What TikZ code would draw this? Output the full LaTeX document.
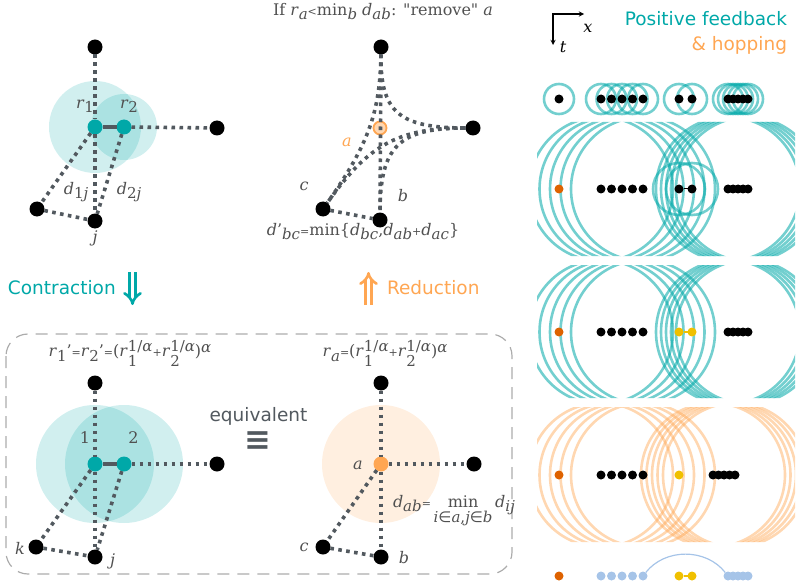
\documentclass[tikz,border=0pt]{standalone}
\usepackage{fontspec}
\setmainfont{DejaVu Serif}
\newfontfamily\sansfont{DejaVu Sans}
\usetikzlibrary{arrows, arrows.meta, backgrounds, calc}

\definecolor{fbteal}{RGB}{0,168,168}
\definecolor{hoporange}{RGB}{255,166,82}
\definecolor{deeporange}{RGB}{222,98,0}
\definecolor{goldy}{RGB}{240,192,0}
\definecolor{paleblue}{RGB}{166,196,232}
\definecolor{edgegray}{RGB}{82,89,95}
\definecolor{txtgray}{RGB}{80,80,80}
\definecolor{boxgray}{RGB}{172,172,172}

\newcommand{\vi}[1]{\textit{#1}}
\newcommand{\lo}[1]{\raisebox{-4.5pt}{\fontsize{15}{15}\selectfont #1}}
\newcommand{\hi}[1]{\raisebox{4.5pt}{\fontsize{15}{15}\selectfont #1}}
\newcommand{\losup}[2]{\rlap{\raisebox{-10pt}{\fontsize{15}{15}\selectfont #1}}\raisebox{5pt}{\fontsize{15}{15}\selectfont #2}}
\newcommand{\sm}[1]{{\fontsize{11}{11}\selectfont #1}}
\newcommand{\isin}{{\sansfont ∈}}

\begin{document}
\begin{tikzpicture}[
        x = 1pt, y = -1pt, % one unit per pixel, y runs down
        > = stealth, % arrow head style
        semithick % line style
    ]

    \tikzstyle{every node}=[inner sep = 0pt, outer sep = 0pt]
    \tikzstyle{vertex}=[circle, fill = black, minimum size = 15pt]
    \tikzstyle{merged}=[vertex, fill = fbteal]
    \tikzstyle{link}=[draw = edgegray, line width = 3.6pt,
        dash pattern = on 3.6pt off 4.4pt]
    \tikzstyle{bond}=[draw = edgegray, line width = 3.6pt]
    \tikzstyle{cloud}=[fill = fbteal, fill opacity = 0.18]
    \tikzstyle{lbl}=[text = txtgray, font = \fontsize{16}{20}\selectfont]
    \tikzstyle{word}=[font = \sansfont\fontsize{18.5}{22}\selectfont]
    \tikzstyle{move}=[double, double distance = 3.5pt, line width = 2.6pt,
        -{Implies[length = 10pt, width = 22pt]}]
    \tikzstyle{dot}=[circle, fill = black, minimum size = 9pt]
    \tikzstyle{fbring}=[draw = fbteal, draw opacity = 0.55, line width = 2.6pt]
    \tikzstyle{hopring}=[draw = hoporange, draw opacity = 0.45, line width = 2.6pt]

    \useasboundingbox (0,0) rectangle (800,588);

    % contraction, before
    \node[vertex] (u1) at (95,47) {};
    \node[merged] (u2) at (95,127) {};
    \node[merged] (u3) at (124,127) {};
    \node[vertex] (u4) at (217,128) {};
    \node[vertex] (u5) at (37,209) {};
    \node[vertex] (u6) at (95,221) {};
    \begin{scope}[on background layer]
        \fill[cloud] (u2) circle (46pt);
        \fill[cloud] (u3) circle (33pt);
    \end{scope}
    \path[bond] (u2) edge (u3);
    \path[link] (u1) edge (u2); \path[link] (u3) edge (u4);
    \path[link] (u2) edge (u5); \path[link] (u2) edge (u6);
    \path[link] (u3) edge (u6); \path[link] (u5) edge (u6);
    \node[lbl] (ur1) at (85,106) {\vi{r}\lo{1}};
    \node[lbl] (ur2) at (129,106) {\vi{r}\lo{2}};
    \node[lbl] (ud1) at (76,192) {\vi{d}\lo{1\vi{j}}};
    \node[lbl] (ud2) at (129,192) {\vi{d}\lo{2\vi{j}}};
    \node[lbl] (uj) at (95,238) {\vi{j}};

    % reduction, before
    \node[lbl, anchor = base] (vt) at (383,15.5)
        {If \vi{r}\lo{\vi{a}}\sm{<}min\lo{\vi{b}} \vi{d}\lo{\vi{ab}}: \textquotedbl remove\textquotedbl\ \vi{a}};
    \node[vertex] (v1) at (381,47) {};
    \node[circle, draw = hoporange, line width = 1.8pt, fill = hoporange!45,
        minimum size = 13pt] (v2) at (380,128) {};
    \node[vertex] (v3) at (473,128) {};
    \node[vertex] (v4) at (323,209) {};
    \node[vertex] (v5) at (380,220) {};
    \draw[link] (v1) .. controls ($(v1)!0.8!(v2)$) and ($(v4)!0.8!(v2)$) .. (v4);
    \draw[link] (v1) .. controls ($(v1)!0.8!(v2)$) and ($(v3)!0.8!(v2)$) .. (v3);
    \draw[link] (v3) .. controls ($(v3)!0.8!(v2)$) and ($(v5)!0.8!(v2)$) .. (v5);
    \draw[link] (v3) .. controls ($(v3)!0.8!(v2)$) and ($(v4)!0.8!(v2)$) .. (v4);
    \path[link] (v1) edge (v5); \path[link] (v4) edge (v5);
    \node[lbl, text = hoporange] (va) at (347,142) {\vi{a}};
    \node[lbl] (vc) at (304,186) {\vi{c}};
    \node[lbl] (vb) at (403,196) {\vi{b}};
    \node[lbl, anchor = base] (vf) at (363,235)
        {\vi{d}'\lo{\vi{bc}}\sm{=}min\{\vi{d}\lo{\vi{bc}},\vi{d}\lo{\vi{ab}}\sm{+}\vi{d}\lo{\vi{ac}}\}};

    % the two moves
    \node[word, text = fbteal, anchor = base west] (con) at (8,294.5) {Contraction};
    \coordinate (cd1) at (132.5,272);
    \coordinate (cd2) at (132.5,305);
    \draw[fbteal, move] (cd1) -- (cd2);
    \node[word, text = hoporange, anchor = base west] (red) at (387,294.5) {Reduction};
    \coordinate (ru1) at (368.5,305);
    \coordinate (ru2) at (368.5,272);
    \draw[hoporange, move] (ru1) -- (ru2);

    % equivalent pair
    \draw[boxgray, line width = 1.2pt, dash pattern = on 12pt off 8pt,
        rounded corners = 22pt] (6,334) rectangle (512,574);
    \node[word, text = edgegray, anchor = base] (eqw) at (258.5,421.5) {equivalent};
    \node[text = edgegray, font = \sansfont\bfseries\fontsize{32}{32}\selectfont]
        (eqs) at (258,441) {≡};

    % contraction, after
    \node[lbl, anchor = base] (wf) at (130,356.5)
        {\vi{r}\lo{1}'\sm{=}\vi{r}\lo{2}'\sm{=}(\vi{r}\losup{1}{1/\vi{α}}\sm{+}\vi{r}\losup{2}{1/\vi{α}})\hi{\vi{α}}};
    \node[vertex] (w1) at (95,383) {};
    \node[merged] (w2) at (95,464) {};
    \node[merged] (w3) at (124,464) {};
    \node[vertex] (w4) at (217,464) {};
    \node[vertex] (w5) at (36,547) {};
    \node[vertex] (w6) at (95,557) {};
    \begin{scope}[on background layer]
        \fill[cloud] (w2) circle (59pt);
        \fill[cloud] (w3) circle (59pt);
    \end{scope}
    \path[bond] (w2) edge (w3);
    \path[link] (w1) edge (w2); \path[link] (w3) edge (w4);
    \path[link] (w2) edge (w5); \path[link] (w2) edge (w6);
    \path[link] (w3) edge (w6); \path[link] (w5) edge (w6);
    \node[lbl] (w1l) at (85,438) {1};
    \node[lbl] (w2l) at (133.5,438) {2};
    \node[lbl] (wk) at (20,548) {\vi{k}};
    \node[lbl] (wj) at (112.5,561) {\vi{j}};

    % reduction, after
    \node[lbl, anchor = base] (zf) at (385,356.5)
        {\vi{r}\lo{\vi{a}}\sm{=}(\vi{r}\losup{1}{1/\vi{α}}\sm{+}\vi{r}\losup{2}{1/\vi{α}})\hi{\vi{α}}};
    \node[vertex] (z1) at (381,383) {};
    \node[vertex, fill = hoporange] (z2) at (381,464) {};
    \node[vertex] (z3) at (474,464) {};
    \node[vertex] (z4) at (323,547) {};
    \node[vertex] (z5) at (381,557) {};
    \begin{scope}[on background layer]
        \fill[hoporange, fill opacity = 0.18] (z2) circle (59pt);
    \end{scope}
    \path[link] (z1) edge (z2); \path[link] (z2) edge (z3);
    \path[link] (z2) edge (z4); \path[link] (z2) edge (z5);
    \path[link] (z4) edge (z5);
    \node[lbl] (za) at (358,465) {\vi{a}};
    \node[lbl] (zc) at (304,547) {\vi{c}};
    \node[lbl] (zb) at (404,558) {\vi{b}};
    \node[lbl, anchor = base west] (zd) at (393,507)
        {\vi{d}\lo{\vi{ab}}\sm{=}\,\begin{tabular}[t]{@{}c@{}}min\\[-5pt]{\fontsize{15}{15}\selectfont\vi{i}\isin\vi{a},\vi{j}\isin\vi{b}}\end{tabular}\,\vi{d}\lo{\vi{ij}}};

    % space-time panel
    \coordinate (ax) at (553,14);
    \coordinate (axx) at (584,14);
    \coordinate (axt) at (553,45);
    \draw[<->, line width = 1.3pt] (axx) -- (ax) -- (axt);
    \node[lbl, text = black] (xl) at (588,28) {\vi{x}};
    \node[lbl, text = black] (tl) at (563,47) {\vi{t}};
    \node[word, text = fbteal, anchor = base east] (pf) at (787,26) {Positive feedback};
    \node[word, text = hoporange, anchor = base east] (hp) at (787,51) {\& hopping};

    % row 1
    \node[dot] (o1) at (559,99) {};
    \foreach \x [count=\i] in {601,611.5,622,632.5,643} \node[dot] (g1\i) at (\x,99) {};
    \foreach \x [count=\i] in {679,692} \node[dot] (p1\i) at (\x,99) {};
    \foreach \x [count=\i] in {728,733,738,743,748} \node[dot] (c1\i) at (\x,99) {};
    \begin{scope}[on background layer]
        \foreach \n in {o1,g11,g12,g13,g14,g15,p11,p12,c11,c12,c13,c14,c15}
            \draw[fbring] (\n) circle (15pt);
    \end{scope}

    % row 2
    \node[dot, fill = deeporange] (o2) at (559,189) {};
    \foreach \x [count=\i] in {601,611.5,622,632.5,643} \node[dot] (g2\i) at (\x,189) {};
    \foreach \x [count=\i] in {679,692} \node[dot] (p2\i) at (\x,189) {};
    \foreach \x [count=\i] in {728,733,738,743,748} \node[dot] (c2\i) at (\x,189) {};
    \draw[line width = 1pt] (p21) -- (p22);
    \begin{scope}[on background layer]
    \begin{scope}
        \clip[rounded corners = 4pt] (537,122) rectangle (795,256);
        \foreach \i in {1,...,5} {
            \draw[fbring] (g2\i) circle (72pt);
            \draw[fbring] (c2\i) circle (72pt);
        }
        \draw[fbring] (p21) circle (26pt);
        \draw[fbring] (p22) circle (26pt);
    \end{scope}
    \end{scope}

    % row 3
    \node[dot, fill = deeporange] (o3) at (559,332) {};
    \foreach \x [count=\i] in {601,611.5,622,632.5,643} \node[dot] (g3\i) at (\x,332) {};
    \foreach \x [count=\i] in {679,692} \node[dot, fill = goldy] (p3\i) at (\x,332) {};
    \foreach \x [count=\i] in {728,733,738,743,748} \node[dot] (c3\i) at (\x,332) {};
    \draw[goldy, line width = 1.2pt] (p31) -- (p32);
    \begin{scope}[on background layer]
    \begin{scope}
        \clip[rounded corners = 4pt] (537,265) rectangle (795,398);
        \foreach \i in {1,...,5} {
            \draw[fbring] (g3\i) circle (72pt);
            \draw[fbring] (c3\i) circle (72pt);
        }
    \end{scope}
    \end{scope}

    % row 4
    \node[dot, fill = deeporange] (o4) at (559,475) {};
    \foreach \x [count=\i] in {601,611.5,622,632.5,643} \node[dot] (g4\i) at (\x,475) {};
    \node[dot, fill = goldy] (p41) at (679,475) {};
    \foreach \x [count=\i] in {713,718.5,724,729.5,735} \node[dot] (c4\i) at (\x,475) {};
    \begin{scope}[on background layer]
    \begin{scope}
        \clip[rounded corners = 4pt] (537,407) rectangle (795,542);
        \foreach \i in {1,...,5} {
            \draw[hopring] (g4\i) circle (72pt);
            \draw[hopring] (c4\i) circle (72pt);
        }
    \end{scope}
    \end{scope}

    % row 5
    \node[dot, fill = deeporange] (o5) at (559,576) {};
    \foreach \x [count=\i] in {601,611.5,622,632.5,643} \node[dot, fill = paleblue] (g5\i) at (\x,576) {};
    \foreach \x [count=\i] in {679,692} \node[dot, fill = goldy] (p5\i) at (\x,576) {};
    \foreach \x [count=\i] in {728,733,738,743,748} \node[dot, fill = paleblue] (c5\i) at (\x,576) {};
    \draw[goldy, line width = 1.2pt] (p51) -- (p52);
    \draw[paleblue, line width = 1.2pt] (g55) .. controls (665,548) and (706,548) .. (c51);

\end{tikzpicture}
\end{document}
